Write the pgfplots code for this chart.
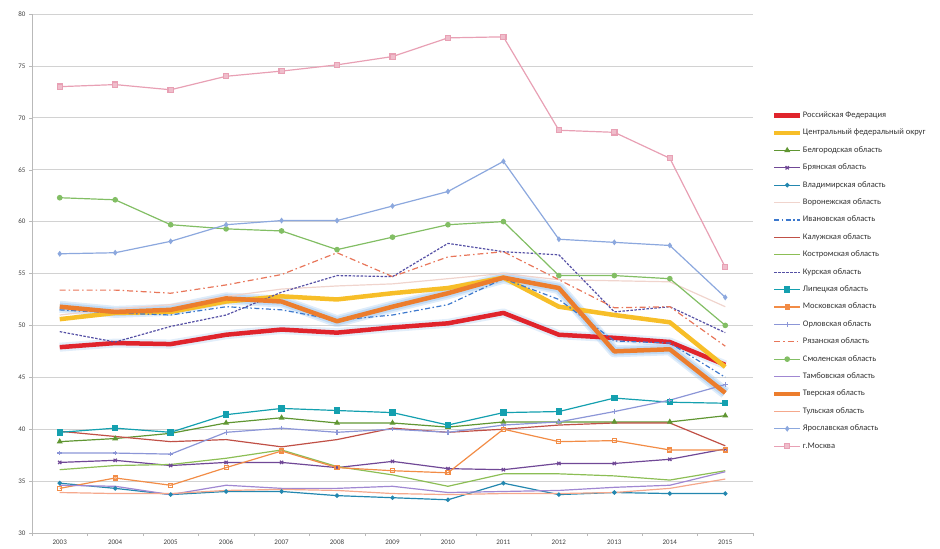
\documentclass[border=0pt]{standalone}
\usepackage{pgfplots}
\pgfplotsset{compat=1.18}
\usepackage{pgfplotstable}
\usepackage{fontspec}
\setmainfont{Carlito}
\definecolor{cRF}{RGB}{224,36,44}
\definecolor{cCFO}{RGB}{247,190,40}
\definecolor{cBel}{RGB}{96,150,50}
\definecolor{cBry}{RGB}{112,72,150}
\definecolor{cVla}{RGB}{35,135,175}
\definecolor{cVor}{RGB}{240,212,205}
\definecolor{cIva}{RGB}{60,120,205}
\definecolor{cKal}{RGB}{192,80,70}
\definecolor{cKos}{RGB}{140,190,85}
\definecolor{cKur}{RGB}{85,80,165}
\definecolor{cLip}{RGB}{20,160,175}
\definecolor{cMos}{RGB}{242,140,70}
\definecolor{cOrl}{RGB}{140,150,215}
\definecolor{cRya}{RGB}{232,118,90}
\definecolor{cSmo}{RGB}{130,190,100}
\definecolor{cTam}{RGB}{160,135,210}
\definecolor{cTve}{RGB}{236,125,45}
\definecolor{cTul}{RGB}{245,168,140}
\definecolor{cYar}{RGB}{140,168,222}
\definecolor{cMsk}{RGB}{232,160,180}
\definecolor{cGlow}{RGB}{160,200,240}
\pgfplotstableread{
yr rf cfo bel bry vla vor iva kal kos kur lip mos orl rya smo tam tve tul yar msk
2003 47.9 50.6 38.8 36.8 34.8 51.0 51.5 39.8 36.1 49.4 39.7 34.3 37.7 53.4 62.3 34.6 51.8 33.9 56.9 73.0
2004 48.3 51.2 39.1 37.0 34.3 51.6 51.2 39.3 36.5 48.4 40.1 35.3 37.7 53.4 62.1 34.5 51.3 33.8 57.0 73.2
2005 48.2 51.3 39.6 36.5 33.7 52.0 51.0 38.8 36.6 49.9 39.7 34.6 37.6 53.1 59.7 33.7 51.5 33.8 58.1 72.7
2006 49.1 52.3 40.6 36.8 34.0 52.8 51.8 39.0 37.2 51.0 41.4 36.3 39.7 53.9 59.3 34.6 52.6 34.1 59.7 74.0
2007 49.6 52.8 41.1 36.8 34.0 53.5 51.5 38.3 38.0 53.2 42.0 37.9 40.1 54.9 59.1 34.3 52.3 34.2 60.1 74.5
2008 49.3 52.5 40.6 36.3 33.6 53.8 50.5 39.0 36.4 54.8 41.8 36.3 39.7 57.0 57.3 34.3 50.4 34.1 60.1 75.1
2009 49.8 53.1 40.6 36.9 33.4 54.0 51.0 40.1 35.6 54.7 41.6 36.0 40.0 54.7 58.5 34.5 51.8 33.8 61.5 75.9
2010 50.2 53.6 40.2 36.2 33.2 54.5 52.0 39.7 34.5 57.9 40.4 35.8 39.7 56.6 59.7 33.9 53.1 33.7 62.9 77.7
2011 51.2 54.6 40.7 36.1 34.8 55.0 54.5 40.0 35.7 57.1 41.6 40.0 40.4 57.1 60.0 34.0 54.6 33.8 65.8 77.8
2012 49.1 51.8 40.7 36.7 33.7 54.4 52.5 40.4 35.7 56.8 41.7 38.8 40.7 54.4 54.8 34.1 53.6 33.8 58.3 68.8
2013 48.8 51.0 40.7 36.7 33.9 54.3 48.5 40.6 35.5 51.3 43.0 38.9 41.7 51.7 54.8 34.4 47.5 33.9 58.0 68.6
2014 48.4 50.3 40.7 37.1 33.8 54.2 48.3 40.6 35.1 51.8 42.6 38.0 42.8 51.8 54.5 34.6 47.7 34.3 57.7 66.1
2015 46.2 46.0 41.3 38.1 33.8 51.8 45.0 38.4 36.0 49.3 42.5 38.0 44.3 48.0 50.0 35.9 43.5 35.2 52.7 55.6
}\data
\begin{document}
\begin{tikzpicture}
\path[use as bounding box] (-32pt,-16pt) rectangle (908pt,533pt);
\begin{axis}[
  at={(0,0)}, anchor=south west,
  width=721pt, height=519pt, scale only axis,
  xmin=2002.5, xmax=2015.5, ymin=30, ymax=80,
  xtick={2003,...,2015}, ytick={30,35,...,80},
  minor xtick={2002.5,2003.5,...,2015.5},
  /pgf/number format/1000 sep={},
  /pgf/number format/assume math mode=true,
  axis x line=bottom, axis y line=left,
  axis line style={-, draw=gray!55},
  x tick style={draw=none}, minor x tick style={draw=gray!55},
  y tick style={draw=gray!55},
  tick align=outside, major tick length=3pt, minor tick length=3pt,
  ymajorgrids, grid style={gray!35, line width=0.7pt},
  tick label style={font=\fontsize{7}{8}\selectfont, text=black!75},
  every axis plot/.append style={line width=1.2pt, mark size=2pt},
  legend cell align=left,
  legend style={at={(1.0263,0.813)}, anchor=north west, draw=none, fill=none,
    inner sep=0pt, outer sep=0pt, row sep=8.4pt,
    font=\fontsize{8.5}{9}\selectfont, text=black!80,
    nodes={inner sep=0.5pt, text height=6pt, text depth=2pt}},
  legend image code/.code={\draw[#1, mark=none] (0pt,0pt) -- (26pt,0pt);
    \draw[#1] plot coordinates {(13pt,0pt)};},
]
% glows
\addplot[forget plot, cGlow, opacity=0.3, line width=9pt, mark=none, line join=round] table[x=yr,y=rf]{\data};
\addplot[forget plot, cGlow, opacity=0.35, line width=12pt, mark=none, line join=round] table[x=yr,y=tve]{\data};
\addplot[forget plot, cGlow, opacity=0.5, line width=8.5pt, mark=none, line join=round] table[x=yr,y=tve]{\data};

\addplot[cRF, line width=4.5pt, mark=none, line join=round] table[x=yr,y=rf]{\data};
\addlegendentry{Российская Федерация}
\addplot[cCFO, line width=4.5pt, mark=none, line join=round] table[x=yr,y=cfo]{\data};
\addlegendentry{Центральный федеральный округ}
\addplot[cBel, mark=triangle*, mark size=2.3pt] table[x=yr,y=bel]{\data};
\addlegendentry{Белгородская область}
\addplot[cBry, mark=x, mark size=2.3pt] table[x=yr,y=bry]{\data};
\addlegendentry{Брянская область}
\addplot[cVla, mark=*, mark size=1.6pt] table[x=yr,y=vla]{\data};
\addlegendentry{Владимирская область}
\addplot[cVor, mark=none] table[x=yr,y=vor]{\data};
\addlegendentry{Воронежская область}
\addplot[cIva, mark=none, dash pattern=on 5pt off 2.5pt on 1.5pt off 2.5pt] table[x=yr,y=iva]{\data};
\addlegendentry{Ивановская область}
\addplot[cKal, mark=none] table[x=yr,y=kal]{\data};
\addlegendentry{Калужская область}
\addplot[cKos, mark=none] table[x=yr,y=kos]{\data};
\addlegendentry{Костромская область}
\addplot[cKur, mark=none, dash pattern=on 2.5pt off 1.5pt] table[x=yr,y=kur]{\data};
\addlegendentry{Курская область}
\addplot[cLip, mark=square*, mark size=2.6pt] table[x=yr,y=lip]{\data};
\addlegendentry{Липецкая область}
\addplot[cMos, mark=square, mark size=2pt] table[x=yr,y=mos]{\data};
\addlegendentry{Московская область}
\addplot[cOrl, mark=+, mark size=2.3pt] table[x=yr,y=orl]{\data};
\addlegendentry{Орловская область}
\addplot[cRya, mark=none, dash pattern=on 6pt off 3pt on 1.5pt off 3pt] table[x=yr,y=rya]{\data};
\addlegendentry{Рязанская область}
\addplot[cSmo, mark=*, mark size=2.2pt] table[x=yr,y=smo]{\data};
\addlegendentry{Смоленская область}
\addplot[cTam, mark=none] table[x=yr,y=tam]{\data};
\addlegendentry{Тамбовская область}
\addplot[cTve, line width=4.5pt, mark=none, line join=round] table[x=yr,y=tve]{\data};
\addlegendentry{Тверская область}
\addplot[cTul, mark=none] table[x=yr,y=tul]{\data};
\addlegendentry{Тульская область}
\addplot[cYar, mark=diamond*, mark size=2pt] table[x=yr,y=yar]{\data};
\addlegendentry{Ярославская область}
\addplot[cMsk, mark=square*, mark size=2.6pt, mark options={fill=cMsk!70}] table[x=yr,y=msk]{\data};
\addlegendentry{г.Москва}
\end{axis}
\end{tikzpicture}
\end{document}
